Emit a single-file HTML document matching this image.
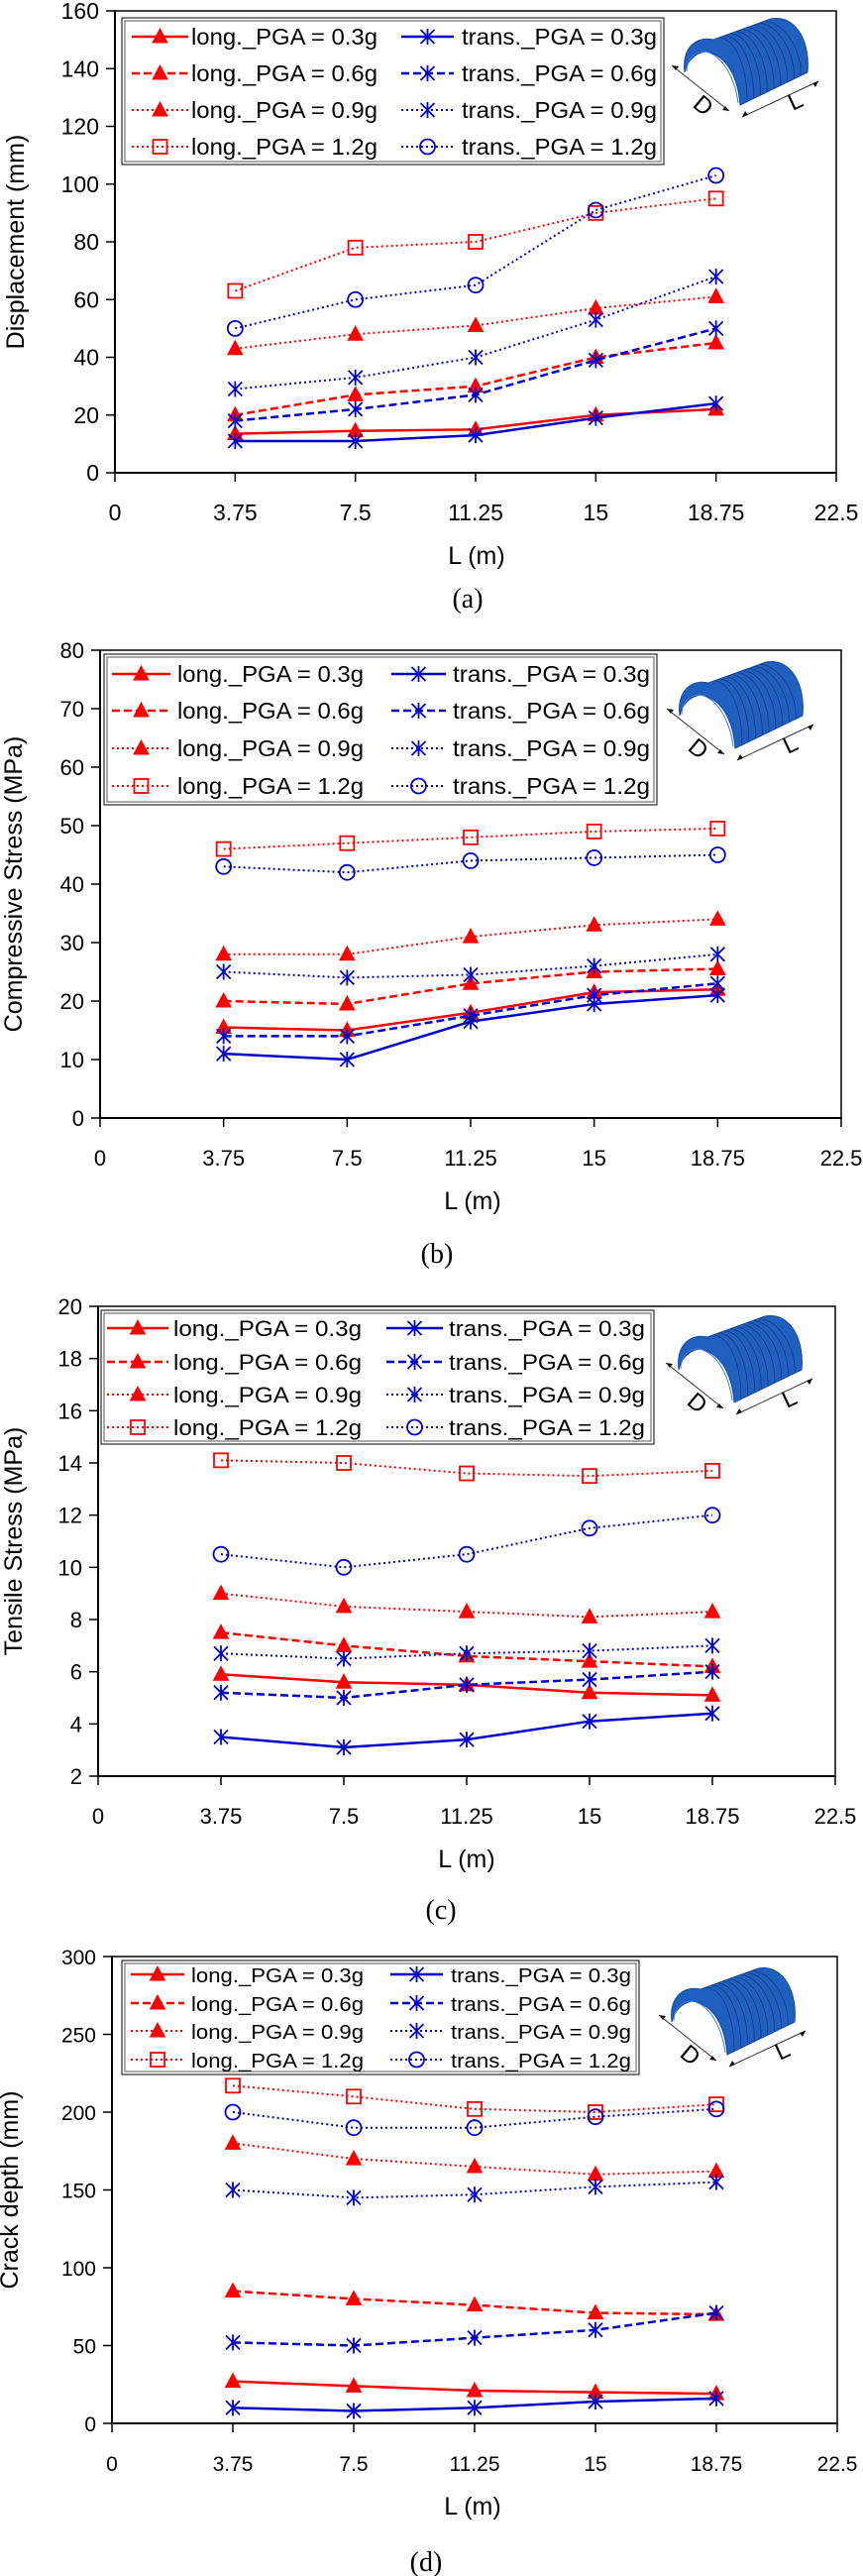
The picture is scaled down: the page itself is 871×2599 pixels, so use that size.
<!DOCTYPE html>
<html><head><meta charset="utf-8">
<style>
html,body{margin:0;padding:0;background:#fff;}
svg{display:block;}
text{font-family:"Liberation Sans",sans-serif;fill:#000;}
</style></head>
<body>
<svg id="fig" width="871" height="2599" viewBox="0 0 871 2599" xmlns="http://www.w3.org/2000/svg"></svg>
<script>
// shared x categories
const xCats = [3.75, 7.5, 11.25, 15, 18.75];
const xTicks = ["0","3.75","7.5","11.25","15","18.75","22.5"];
const legendLabels = ["long._PGA = 0.3g","long._PGA = 0.6g","long._PGA = 0.9g","long._PGA = 1.2g","trans._PGA = 0.3g","trans._PGA = 0.6g","trans._PGA = 0.9g","trans._PGA = 1.2g"];

// (a) Displacement
const aLong03 = [13.5, 14.5, 15, 20, 22];
const aLong06 = [20, 27, 30, 40, 45];
const aLong09 = [43, 48, 51, 57, 61];
const aLong12 = [63, 78, 80, 90, 95];
const aTrans03 = [11, 11, 13, 19, 24];
const aTrans06 = [18, 22, 27, 39, 50];
const aTrans09 = [29, 33, 40, 53, 68];
const aTrans12 = [50, 60, 65, 91, 103];
const aYTicks = [0,20,40,60,80,100,120,140,160];

// (b) Compressive stress
const bLong03 = [15.5, 15, 18, 21.5, 22];
const bLong06 = [20, 19.5, 23, 25, 25.5];
const bLong09 = [28, 28, 31, 33, 34];
const bLong12 = [46, 47, 48, 49, 49.5];
const bTrans03 = [11, 10, 16.5, 19.5, 21];
const bTrans06 = [14, 14, 17.5, 21, 23];
const bTrans09 = [25, 24, 24.5, 26, 28];
const bTrans12 = [43, 42, 44, 44.5, 45];
const bYTicks = [0,10,20,30,40,50,60,70,80];

// (c) Tensile stress
const cLong03 = [5.9, 5.6, 5.5, 5.2, 5.1];
const cLong06 = [7.5, 7, 6.6, 6.4, 6.2];
const cLong09 = [9, 8.5, 8.3, 8.1, 8.3];
const cLong12 = [14.1, 14, 13.6, 13.5, 13.7];
const cTrans03 = [3.5, 3.1, 3.4, 4.1, 4.4];
const cTrans06 = [5.2, 5, 5.5, 5.7, 6];
const cTrans09 = [6.7, 6.5, 6.7, 6.8, 7];
const cTrans12 = [10.5, 10, 10.5, 11.5, 12];
const cYTicks = [2,4,6,8,10,12,14,16,18,20];

// (d) Crack depth
const dLong03 = [27, 24, 21, 20, 19];
const dLong06 = [85, 80, 76, 71, 70];
const dLong09 = [180, 170, 165, 160, 162];
const dLong12 = [217, 210, 202, 200, 205];
const dTrans03 = [10, 8, 10, 14, 16];
const dTrans06 = [52, 50, 55, 60, 71];
const dTrans09 = [150, 145, 147, 152, 155];
const dTrans12 = [200, 190, 190, 197, 202];
const dYTicks = [0,50,100,150,200,250,300];

const NS = "http://www.w3.org/2000/svg";
const svg = document.getElementById("fig");
function mk(tag, attrs, parent){
  const e = document.createElementNS(NS, tag);
  for (const k in attrs) e.setAttribute(k, attrs[k]);
  (parent||svg).appendChild(e);
  return e;
}
const RED = "#ff0000", BLUE = "#0000cc";
const styles = [
  {c:RED, dash:null, w:2.5, m:"tri"},
  {c:RED, dash:"8,4", w:2.5, m:"tri"},
  {c:RED, dash:"2,3", w:2, m:"tri"},
  {c:RED, dash:"2,3", w:2, m:"sq"},
  {c:BLUE, dash:null, w:2.5, m:"ast"},
  {c:BLUE, dash:"8,4", w:2.5, m:"ast"},
  {c:BLUE, dash:"2,3", w:2, m:"ast"},
  {c:BLUE, dash:"2,3", w:2, m:"circ"}
];
function marker(g, type, x, y, c){
  let e;
  if (type==="tri") e = mk("polygon",{points:`${x},${y-8} ${x-7.5},${y+6} ${x+7.5},${y+6}`,fill:c,stroke:c,"stroke-width":1},g);
  else if (type==="sq") e = mk("rect",{x:x-7,y:y-7,width:14,height:14,fill:"none",stroke:c,"stroke-width":1.8},g);
  else if (type==="circ") e = mk("circle",{cx:x,cy:y,r:7.5,fill:"none",stroke:c,"stroke-width":1.8},g);
  else { e = mk("path",{d:`M${x-7},${y-7}L${x+7},${y+7}M${x-7},${y+7}L${x+7},${y-7}M${x},${y-8}L${x},${y+8}`,fill:"none",stroke:c,"stroke-width":1.8},g); }
  
  
  return e;
}
function tunnel(g, ox, oy){
  // ox,oy: front-left base of tunnel
  const t = mk("g",{transform:`translate(${ox-691},${oy-73})`},g);
  
  
  mk("path",{d:"M691,73 C688,48 703,36 720,40 L778,19 C805,14 818,45 815,73 L747,106 C745,80 735,56 712,52 C700,54 693,63 691,73 Z",fill:"#1f5fc0",stroke:"#174a99","stroke-width":1},t);
  mk("path",{d:"M693,72 C693,60 700,52 712,52 C730,56 742,80 745,104",fill:"none",stroke:"#3a78d8","stroke-width":1},t);
  for (let i=1;i<=9;i++){
    const f=i/10, dx=58*f, dy=-21*f, bx=68*f, by=-33*f;
    mk("path",{d:`M${720+dx},${40+dy} C${740+dx},${42+dy} ${748+bx},${80+by} ${747+bx},${106+by}`,fill:"none",stroke:"#123a80","stroke-width":0.8},t);
  }
  mk("path",{d:"M678,66 L736,112 M749,118 L826,82",fill:"none",stroke:"#333","stroke-width":1},t);
  mk("path",{d:"M678,66 l7,1 l-3,4 Z M736,112 l-7,-1 l3,-4 Z M749,118 l3,-6 l3,4 Z M826,82 l-3,6 l-3,-4 Z",fill:"#111"},t);
  const d = mk("text",{x:698,y:107,"font-size":24,transform:"rotate(40 698 107)"},t); d.textContent="D";
   
  const l = mk("text",{x:800,y:112,"font-size":24,transform:"rotate(-25 800 112)"},t); l.textContent="L";
   
}
function drawChart(cfg){
  const g = mk("g",{});
  
  
  const X = v => cfg.x0 + (v/22.5)*(cfg.x1-cfg.x0);
  const ymin = cfg.yTicks[0], ymax = cfg.yTicks[cfg.yTicks.length-1];
  const Y = v => cfg.bottom - (v-ymin)/(ymax-ymin)*(cfg.bottom-cfg.top);
  // frame
  const fr = mk("rect",{x:cfg.x0,y:cfg.top,width:cfg.x1-cfg.x0,height:cfg.bottom-cfg.top,fill:"none",stroke:"#000","stroke-width":1.5},g);
   
  const ax = mk("path",{d:`M${cfg.x0},${cfg.top}V${cfg.bottom}H${cfg.x1}`,fill:"none",stroke:"#000","stroke-width":2},g);
   
  // y ticks
  cfg.yTicks.forEach(v=>{
    mk("line",{x1:cfg.x0-9,x2:cfg.x0,y1:Y(v),y2:Y(v),stroke:"#000","stroke-width":1.5},g);
    const t = mk("text",{x:cfg.x0-16,y:Y(v)+8,"text-anchor":"end","font-size":cfg.fs},g);
    t.textContent = String(v);
     
  });
  xTicks.forEach((s,i)=>{
    const x = X(i*3.75);
    mk("line",{x1:x,x2:x,y1:cfg.bottom,y2:cfg.bottom+9,stroke:"#000","stroke-width":1.5},g);
    const t = mk("text",{x:x,y:cfg.bottom+48,"text-anchor":"middle","font-size":cfg.fs},g);
    t.textContent = s;
     
  });
  const xt = mk("text",{x:cfg.lx,y:cfg.bottom+92,"text-anchor":"middle","font-size":25},g);
  xt.textContent="L (m)";
   
  const cy=(cfg.top+cfg.bottom)/2;
  const yt = mk("text",{x:cfg.tx,y:cy,"text-anchor":"middle","font-size":25,transform:`rotate(-90 ${cfg.tx} ${cy})`},g);
  yt.textContent=cfg.yTitle;
   
  const cap = mk("text",{x:cfg.capX,y:cfg.bottom+cfg.capDy+9,"text-anchor":"middle","font-size":28,style:'font-family:"Liberation Serif",serif'},g);
  cap.textContent=cfg.caption;
   
  // series
  cfg.series.forEach((vals,si)=>{
    const st = styles[si];
    const sg = mk("g",{},g);
    
    
    const pts = vals.map((v,i)=>`${X(xCats[i])},${Y(v)}`).join(" ");
    const pl = mk("polyline",{points:pts,fill:"none",stroke:st.c,"stroke-width":st.w},sg);
    if (st.dash) pl.setAttribute("stroke-dasharray",st.dash);
     
    vals.forEach((v,i)=>marker(sg, st.m, X(xCats[i]), Y(v), st.c));
  });
  // legend
  const L = cfg.leg;
  const lg = mk("g",{},g);
   
  mk("rect",{x:L.x,y:L.y,width:L.w,height:L.h,fill:"#fff",stroke:"#000","stroke-width":1},lg);
  mk("rect",{x:L.x+3,y:L.y+3,width:L.w-6,height:L.h-6,fill:"none",stroke:"#555","stroke-width":1},lg);
  legendLabels.forEach((lab,i)=>{
    const st = styles[i];
    const col = i<4?0:1, row = i%4;
    const ry = L.rows[row];
    const lx1 = col? L.tl1:L.ll1, lx2 = col? L.tl2:L.ll2, tx = col? L.tt:L.lt, tw = col? L.tw:L.lw;
    const e = mk("g",{},lg);
     
    const ln = mk("line",{x1:lx1,x2:lx2,y1:ry,y2:ry,stroke:st.c,"stroke-width":st.w},e);
    if (st.dash) ln.setAttribute("stroke-dasharray",st.dash);
    marker(e, st.m, (lx1+lx2)/2, ry, st.c);
    const t = mk("text",{x:tx,y:ry+8,"font-size":cfg.lfs,textLength:tw,lengthAdjust:"spacingAndGlyphs"},e);
    t.textContent = lab;
  });
  tunnel(g, cfg.icon[0], cfg.icon[1]);
}
drawChart({name:"chart-displacement",x0:116,x1:844,top:11,bottom:477,yTicks:aYTicks,fs:23,lfs:23,
  yTitle:"Displacement (mm)",tx:24,lx:481,capX:472,capDy:127,caption:"(a)",
  series:[aLong03,aLong06,aLong09,aLong12,aTrans03,aTrans06,aTrans09,aTrans12],
  leg:{x:123,y:18,w:547,h:148,rows:[37,74,111,148],ll1:133,ll2:190,lt:193,lw:188,tl1:405,tl2:458,tt:466,tw:197},
  icon:[691,73]});
drawChart({name:"chart-compressive-stress",x0:101,x1:849,top:656,bottom:1128,yTicks:bYTicks,fs:22,lfs:23,
  yTitle:"Compressive Stress (MPa)",tx:22,lx:477,capX:441,capDy:137,caption:"(b)",
  series:[bLong03,bLong06,bLong09,bLong12,bTrans03,bTrans06,bTrans09,bTrans12],
  leg:{x:105,y:660,w:558,h:152,rows:[680,717,755,793],ll1:113,ll2:172,lt:179,lw:188,tl1:395,tl2:450,tt:457,tw:199},
  icon:[686,722]});
drawChart({name:"chart-tensile-stress",x0:99,x1:843,top:1318,bottom:1792,yTicks:cYTicks,fs:22,lfs:22,
  yTitle:"Tensile Stress (MPa)",tx:22,lx:471,capX:445,capDy:135,caption:"(c)",
  series:[cLong03,cLong06,cLong09,cLong12,cTrans03,cTrans06,cTrans09,cTrans12],
  leg:{x:102,y:1322,w:558,h:135,rows:[1340,1374,1407,1440],ll1:108,ll2:170,lt:175,lw:190,tl1:390,tl2:447,tt:453,tw:198},
  icon:[685,1382]});
drawChart({name:"chart-crack-depth",x0:113,x1:845,top:1974,bottom:2445,yTicks:dYTicks,fs:21,lfs:20,
  yTitle:"Crack depth (mm)",tx:18,lx:477,capX:430,capDy:140,caption:"(d)",
  series:[dLong03,dLong06,dLong09,dLong12,dTrans03,dTrans06,dTrans09,dTrans12],
  leg:{x:123,y:1978,w:522,h:115,rows:[1992,2021,2049,2078],ll1:132,ll2:186,lt:193,lw:174,tl1:394,tl2:447,tt:455,tw:182},
  icon:[678,2040]});
</script>
</body></html>
